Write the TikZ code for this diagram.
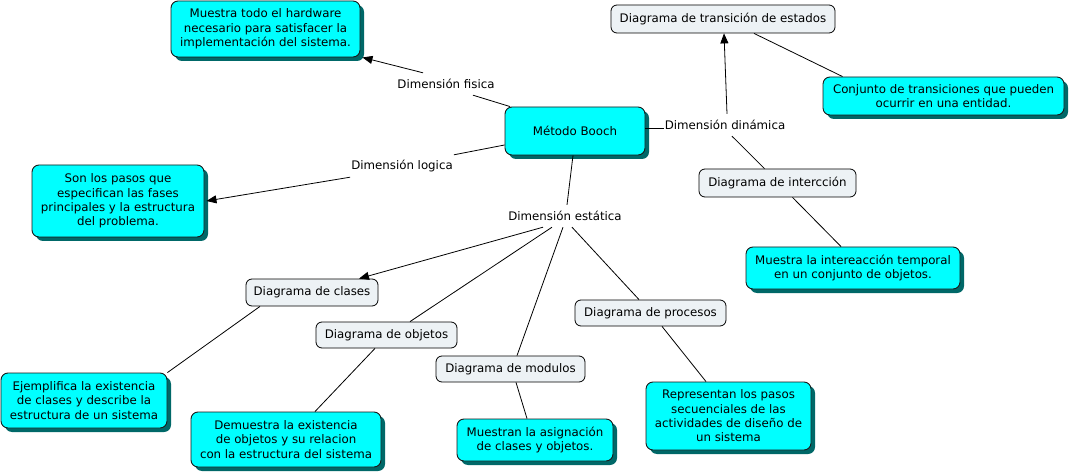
\documentclass[tikz,border=0pt]{standalone}
\usepackage{fontspec}
\setmainfont{DejaVu Sans}
\usetikzlibrary{shadows,arrows.meta}
\definecolor{cyanbox}{RGB}{0,255,255}
\definecolor{shadowc}{RGB}{0,104,104}
\definecolor{graybox}{RGB}{237,242,245}
\begin{document}
\begin{tikzpicture}[x=1pt,y=-1pt,
  every node/.style={font=\fontsize{11.8pt}{14.3pt}\selectfont, align=center, inner sep=1pt},
  cbox/.style={draw=black!90, line width=0.9pt, fill=cyanbox, rounded corners=7pt,
    drop shadow={shadow xshift=4pt, shadow yshift=-4pt, opacity=1, fill=shadowc}},
  gbox/.style={draw=black, line width=0.8pt, fill=graybox, rounded corners=6pt},
  lbl/.style={minimum height=22pt, inner sep=1pt},
  conn/.style={draw=black, line width=0.8pt},
  arr/.style={conn, -{Triangle[length=10pt,width=8pt]}}
]
\useasboundingbox (0,0) rectangle (1071,473);
\fill[white] (0,0) rectangle (1071,473);

% concept boxes (cyan)
\node[cbox, minimum width=189pt, minimum height=56pt] (hw) at (265.5,29)
  {Muestra todo el hardware\\necesario para satisfacer la\\implementación del sistema.};
\node[cbox, minimum width=140pt, minimum height=48pt] (booch) at (575,131) {Método Booch};
\node[cbox, minimum width=172pt, minimum height=72pt] (pasos) at (118,201)
  {Son los pasos que\\especifican las fases\\principales y la estructura\\del problema.};
\node[cbox, minimum width=241pt, minimum height=38pt] (conj) at (943.5,96)
  {Conjunto de transiciones que pueden\\ocurrir en una entidad.};
\node[cbox, minimum width=214pt, minimum height=42pt] (tempo) at (853,268)
  {Muestra la intereacción temporal\\en un conjunto de objetos.};
\node[cbox, minimum width=166pt, minimum height=55pt] (ejem) at (84,400.5)
  {Ejemplifica la existencia\\de clases y describe la\\estructura de un sistema};
\node[cbox, minimum width=190pt, minimum height=55pt] (demu) at (286,439.5)
  {Demuestra la existencia\\de objetos y su relacion\\con la estructura del sistema};
\node[cbox, minimum width=156pt, minimum height=42pt] (muestran) at (535,440)
  {Muestran la asignación\\de clases y objetos.};
\node[cbox, minimum width=165pt, minimum height=68pt] (repre) at (728.5,416)
  {Representan los pasos\\secuenciales de las\\actividades de diseño de\\un sistema};

% gray boxes
\node[gbox, minimum width=224pt, minimum height=28pt] (trans) at (723,19) {Diagrama de transición de estados};
\node[gbox, minimum width=157pt, minimum height=28pt] (inter) at (777.5,183) {Diagrama de intercción};
\node[gbox, minimum width=132pt, minimum height=27pt] (clases) at (312,292.5) {Diagrama de clases};
\node[gbox, minimum width=141pt, minimum height=26pt] (objetos) at (386.5,335) {Diagrama de objetos};
\node[gbox, minimum width=149pt, minimum height=26pt] (modulos) at (510.5,369) {Diagrama de modulos};
\node[gbox, minimum width=151pt, minimum height=26pt] (procesos) at (650.5,313) {Diagrama de procesos};

% linking labels
\node[lbl] (fisica) at (446,84) {Dimensión fisica};
\node[lbl] (logica) at (402,166) {Dimensión logica};
\node[lbl] (dinamica) at (725,125) {Dimensión dinámica};
\node[lbl] (estatica) at (565,216) {Dimensión estática};

% connectors
\draw[conn] ([xshift=-65pt]booch.north) -- ([xshift=27pt]fisica.south);
\draw[arr] ([xshift=-23pt]fisica.north) -- ([xshift=2pt]hw.south east);

\draw[conn] ([yshift=-14pt]booch.west) -- (logica.north east);
\draw[arr] (logica.south west) -- ([xshift=2pt]pasos.east);

\draw[conn] ([yshift=3pt]booch.east) -- ([yshift=-3pt]dinamica.west);
\draw[arr] ([xshift=2pt]dinamica.north) -- ([xshift=1pt]trans.south);
\draw[conn] ([xshift=7pt]dinamica.south) -- ([xshift=-13pt]inter.north);
\draw[conn] ([xshift=31pt]trans.south) -- ([xshift=-101pt]conj.north);
\draw[conn] ([xshift=15pt]inter.south) -- ([xshift=-12pt]tempo.north);

\draw[conn] ([xshift=-2pt]booch.south) -- ([xshift=2pt]estatica.north);
\draw[arr] ([xshift=-22pt]estatica.south) -- ([xshift=47pt]clases.north);
\draw[conn] ([xshift=-13pt]estatica.south) -- ([xshift=23.5pt]objetos.north);
\draw[conn] ([xshift=-2pt]estatica.south) -- ([xshift=6.5pt]modulos.north);
\draw[conn] ([xshift=7pt]estatica.south) -- ([xshift=-11.5pt]procesos.north);

\draw[conn] ([xshift=-52pt]clases.south) -- (ejem.north east);
\draw[conn] ([xshift=-11.5pt]objetos.south) -- ([xshift=29pt]demu.north);
\draw[conn] ([xshift=5.5pt]modulos.south) -- ([xshift=-8pt]muestran.north);
\draw[conn] ([xshift=11.5pt]procesos.south) -- ([xshift=-22.5pt]repre.north);
\end{tikzpicture}
\end{document}
